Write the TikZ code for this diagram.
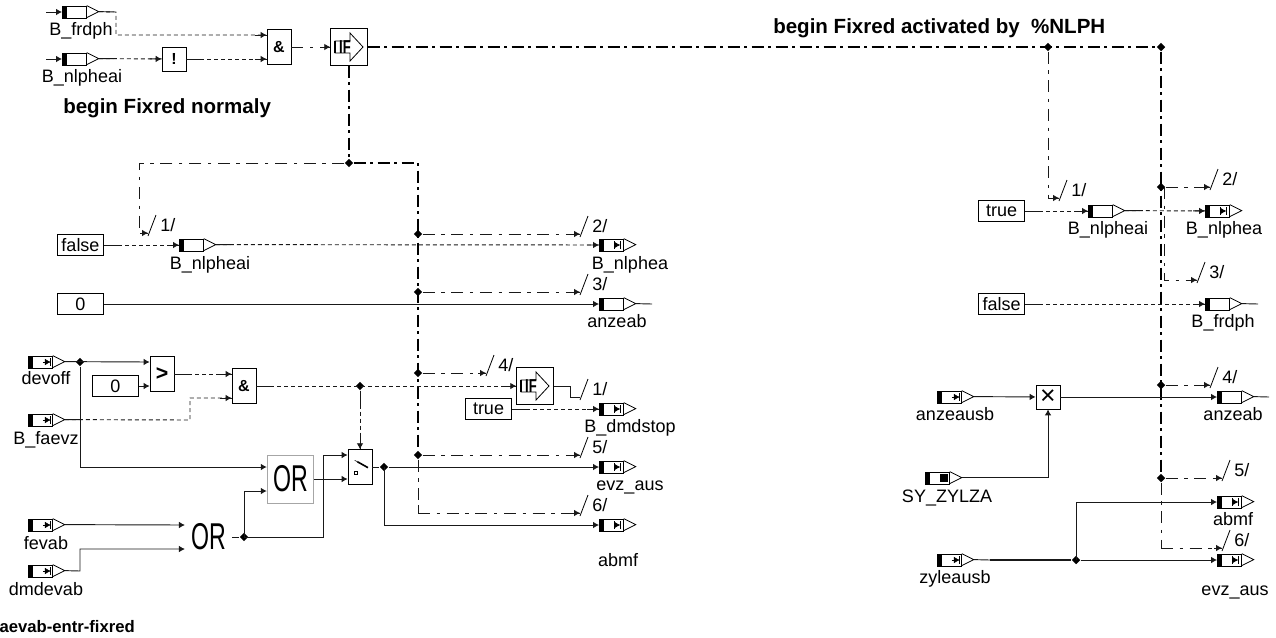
\documentclass[tikz,border=0pt]{standalone}
\usepackage{fontspec}
\setmainfont{Liberation Sans}
\usetikzlibrary{calc, shapes.geometric, positioning, arrows.meta, decorations.markings}
\definecolor{wirecol}{gray}{0.1}
\tikzset{
  >={Latex[length=4.5pt,width=5pt]},
  txtlbl/.style={inner sep=0pt,font=\fontsize{13.5}{15}\selectfont},
  boldlbl/.style={inner sep=0pt,font=\fontsize{15.4}{17}\selectfont\bfseries},
  varbox/.style={draw,fill=white,rectangle,inner sep=0pt,minimum width=18pt,minimum height=9pt,line width=0.6pt},
  valbox/.style={draw,rectangle,inner sep=0pt,minimum width=35pt,minimum height=15.75pt,line width=0.6pt,font=\fontsize{13.5}{15}\selectfont},
  gatebox/.style={draw,fill=white,rectangle,inner sep=0pt,minimum width=18pt,minimum height=26pt,line width=0.6pt,font=\fontsize{12}{14}\selectfont\bfseries},
  junct/.style={diamond,fill=black,inner sep=0pt,minimum size=6.5pt},
  sigline/.style={draw=wirecol,line width=0.7pt},
  logicline/.style={draw=wirecol,line width=0.7pt,dash pattern=on 3pt off 2.25pt,
    postaction={decorate,decoration={markings,
      mark=at position 0 with {\draw[solid,-,line width=0.7pt] (0,0) -- (11pt,0);},
      mark=at position 1 with {\draw[solid,-,line width=0.7pt] (-9pt,0) -- (0,0);}}}},
  ctrlline/.style={draw=wirecol,line width=0.7pt,dash pattern=on 9pt off 5pt on 2.5pt off 5pt,
    postaction={decorate,decoration={markings,
      mark=at position 1 with {\draw[solid,-,line width=0.7pt] (-6pt,0) -- (0,0);}}}},
  ctrlthick/.style={draw=black,line width=1.1pt,dash pattern=on 9pt off 3.5pt on 2pt off 3.5pt},
}
% name, x, y, label, label x, label baseline
\newcommand{\varblk}[6]{%
  \node[varbox,anchor=west] (#1) at (#2,#3) {};
  \fill (#1.north west) rectangle ([xshift=4pt]#1.south west);
  \draw[line width=0.6pt] (#1.north east) -- ++(12,6) coordinate (#1o) -- ++(-12,6);
  \node[txtlbl,anchor=base] (#1l) at (#5,#6) {#4};
}
\newcommand{\markin}[1]{\draw[->,line width=0.5pt] (#1.east) ++(-10,0) -- ++(8,0); \draw[line width=0.8pt] (#1.east) ++(-2,-4) -- ++(0,8);}
\newcommand{\markout}[1]{\draw[line width=0.6pt] (#1.east) ++(-9.5,-4) -- ++(0,8); \draw[->,line width=0.5pt] (#1.east) ++(-9.5,0) -- ++(6,0); \draw[line width=0.6pt] (#1.east) ++(-3.5,-4) -- ++(0,8);}
% name, x, y, label
\newcommand{\trigmark}[4]{%
  \coordinate (#1) at (#2,#3);
  \draw[line width=0.6pt] (#1) ++(0,3) -- ++(8,-21);
  \node[txtlbl,anchor=base west] (#1l) at ([xshift=9pt,yshift=1.5pt]#1) {#4};
}
\newcommand{\ifblk}[3]{%
  \node[gatebox,minimum width=27.5pt,minimum height=27.5pt] (#1) at (#2,#3) {};
  \draw[line width=0.6pt] (#1) ++(-14,-6) -- ++(15,0) -- ++(0,-8) -- ++(13,14) -- ++(-13,14) -- ++(0,-8) -- ++(-15,0) -- cycle;
  \draw[line width=0.9pt] (#1) ++(-14,-6) -- ++(0,12);
  \node[inner sep=0pt] (#1t) at ([xshift=-3pt]#1) {\scalebox{0.7}[1]{\fontsize{14}{14}\selectfont\bfseries IF}};
}
\newcommand{\orword}{\scalebox{0.62}[1]{\fontsize{28}{28}\selectfont\mdseries OR}}
\begin{document}
\begin{tikzpicture}[x=0.75pt,y=-0.75pt]
  \useasboundingbox (0,0) rectangle (1276,637);
  \node[boldlbl,anchor=base west] (hdrleft) at (63,113) {begin Fixred normaly};
  \node[boldlbl,anchor=base west] (hdrright) at (773,33) {begin Fixred activated by\ \ \%NLPH};
  \node[anchor=base east,inner sep=0pt,font=\fontsize{12.5}{14}\selectfont\bfseries] (tagname) at (135,632) {faevab-entr-fixred};
  \varblk{vfrdph}{62}{12}{B\_frdph}{81}{35}
  \varblk{vnlpi}{62}{59}{B\_nlpheai}{82}{82}
  \coordinate (infrdph) at (46,12);
  \coordinate (innlpi) at (46,59);
  \node[gatebox,minimum height=18pt] (notg) at (174,59) {!};
  \node[gatebox] (anda) at (279,47) {\&};
  \ifblk{ifa}{349}{47}
  \draw[sigline,->] (infrdph) -- (vfrdph);
  \draw[sigline,->] (innlpi) -- (vnlpi);
  \coordinate (bendfrd) at (116,12);
  \draw[logicline,->] (vfrdpho) -- (bendfrd) |- ([yshift=9pt]anda.west);
  \draw[logicline,->] (vnlpio) -- (notg);
  \draw[logicline,->] (notg) -- ([yshift=-9pt]anda.west);
  \draw[ctrlline,->] (anda) -- (ifa);
  % control rails
  \node[junct] (jla) at (349,163) {};
  \node[junct] (jl2) at (418,234) {};
  \node[junct] (jl3) at (418,292) {};
  \node[junct] (jl4) at (418,373) {};
  \node[junct] (jl5) at (418,455) {};
  \node[junct] (jra) at (1048,47) {};
  \node[junct] (jrb) at (1161,47) {};
  \node[junct] (jr2) at (1161,187) {};
  \node[junct] (jr4) at (1161,385) {};
  \node[junct] (jr5) at (1161,478) {};
  \coordinate (ctla) at (139,163);
  \coordinate (ctlb) at (418,163);
  \coordinate (ctlc) at (418,513);
  \coordinate (ctrd) at (1161,548);
  \coordinate (ctre) at (1164,187);
  \draw[ctrlthick] (ifa) -- (jrb);
  \draw[ctrlthick] (ifa) -- (jla);
  \draw[ctrlthick] (jla) -- (ctlb) -- (jl5);
  \draw[ctrlthick] (jrb) -- (jr5);
  \draw[ctrlline] (jl5) -- (ctlc);
  \draw[ctrlline] (jr5) -- (ctrd);
  \trigmark{tla}{148}{233}{1/}
  \trigmark{tlb}{580}{234}{2/}
  \trigmark{tlc}{580}{292}{3/}
  \trigmark{tld}{486}{373}{4/}
  \trigmark{tle}{580}{455}{5/}
  \trigmark{tlf}{580}{513}{6/}
  \trigmark{tlg}{580}{397}{1/}
  \trigmark{tra}{1059}{198}{1/}
  \trigmark{trb}{1210}{187}{2/}
  \trigmark{trc}{1197}{280}{3/}
  \trigmark{trd}{1210}{385}{4/}
  \trigmark{tre}{1222}{478}{5/}
  \trigmark{trf}{1222}{548}{6/}
  \draw[ctrlline,->] (jla) -- (ctla) |- (tla);
  \draw[ctrlline,->] (jl2) -- (tlb);
  \draw[ctrlline,->] (jl3) -- (tlc);
  \draw[ctrlline,->] (jl4) -- (tld);
  \draw[ctrlline,->] (jl5) -- (tle);
  \draw[ctrlline,->] (ctlc) -- (tlf);
  \draw[ctrlline,->] (jra) |- (tra);
  \draw[ctrlline,->] (jr2) -- (trb);
  \draw[ctrlline,->] (ctre) |- (trc);
  \draw[ctrlline,->] (jr4) -- (trd);
  \draw[ctrlline,->] (jr5) -- (tre);
  \draw[ctrlline,->] (ctrd) -- (trf);
  % left page, upper rows
  \node[valbox] (falsea) at (80.5,245) {false};
  \node[valbox] (zeroa) at (80.5,304) {0};
  \varblk{vnlpl}{179}{245}{B\_nlpheai}{210}{269}
  \varblk{vnlpa}{599}{245}{B\_nlphea}{630}{269}
  \markout{vnlpa}
  \varblk{vanza}{599}{304}{anzeab}{617}{327}
  \coordinate (stubanza) at (652,304);
  \draw[logicline,->] (falsea) -- (vnlpl);
  \draw[logicline,->] (vnlplo) -- (vnlpa);
  \draw[sigline,->] (zeroa) -- (vanza);
  \draw[sigline] (vanzao) -- (stubanza);
  % left page, lower rows
  \varblk{vdevoff}{28}{362}{devoff}{46}{384}
  \markin{vdevoff}
  \varblk{vfaevz}{28}{420}{B\_faevz}{46}{444}
  \markin{vfaevz}
  \varblk{vfevab}{28}{525}{fevab}{46}{549}
  \markin{vfevab}
  \varblk{vdmdev}{28}{571}{dmdevab}{46}{595}
  \markin{vdmdev}
  \node[valbox] (zerob) at (115.5,386) {0};
  \node[gatebox] (gtr) at (162,374) {\fontsize{16}{16}\selectfont >};
  \node[gatebox] (andb) at (244,386) {\&};
  \ifblk{ifb}{535}{386}
  \node[valbox] (trueb) at (488.5,409) {true};
  \node[gatebox,minimum width=35pt,minimum height=36pt,draw=black!35] (ora) at (290.5,479) {\orword};
  \node[inner sep=0pt,minimum width=35pt,minimum height=36pt] (orb) at (208.5,537) {\orword};
  \node[gatebox] (swt) at (360,467) {};
  \draw[line width=0.4pt] ([xshift=-4pt,yshift=5pt]swt.center) -- ([xshift=-2pt,yshift=4pt]swt.center);
  \draw[line width=1.2pt] ([xshift=-2pt,yshift=4pt]swt.center) -- ([xshift=6pt,yshift=-0.5pt]swt.center);
  \draw[line width=0.5pt] ([xshift=-4pt,yshift=-3.5pt]swt.center) rectangle ([xshift=-2pt,yshift=-5.5pt]swt.center);
  \varblk{vdmdst}{599}{409}{B\_dmdstop}{630}{432}
  \markout{vdmdst}
  \varblk{vevza}{599}{467}{evz\_aus}{630}{490}
  \markout{vevza}
  \varblk{vabma}{599}{525}{abmf}{618}{566}
  \markout{vabma}
  \node[junct] (jdev) at (80,362) {};
  \node[junct] (jsel) at (360,386) {};
  \node[junct] (jor) at (244,537) {};
  \node[junct] (jout) at (384,467) {};
  \coordinate (benddev) at (80,467);
  \coordinate (bendfae) at (190,420);
  \coordinate (benddmd) at (80,571);
  \coordinate (bendsw) at (323,537);
  \coordinate (bendabm) at (384,525);
  \coordinate (bendifb) at (570,386);
  \draw[sigline,->] (vdevoffo) -- ([yshift=9pt]gtr.west);
  \draw[sigline,->] (zerob) -- ([yshift=-9pt]gtr.west);
  \draw[logicline,->] (gtr) -- ([yshift=9pt]andb.west);
  \draw[logicline,->] (vfaevzo) -- (bendfae) |- ([yshift=-9pt]andb.west);
  \draw[logicline,->] (andb) -- (ifb);
  \draw[logicline,->] (jsel) -- (swt);
  \draw[sigline,->] (jdev) -- (benddev) -- ([yshift=9pt]ora.west);
  \draw[sigline,->] (vfevabo) -- ([yshift=9pt]orb.west);
  \draw[sigline,->] (vdmdevo) -- (benddmd) |- ([yshift=-9pt]orb.west);
  \draw[sigline] (orb) -- (jor);
  \draw[sigline,->] (jor.center) |- ([yshift=-9pt]ora.west);
  \draw[sigline,->] (jor.center) -- (bendsw) |- ([yshift=9pt]swt.west);
  \draw[sigline,->] (ora) -- ([yshift=-9pt]swt.west);
  \draw[sigline] (swt) -- (jout);
  \draw[sigline,->] (jout) -- (vevza);
  \draw[sigline,->] (jout.center) -- (bendabm) -- (vabma);
  \draw[sigline] (ifb) -- (bendifb) |- (tlg);
  \draw[logicline,->] (trueb) -- (vdmdst);
  % right page
  \node[valbox] (truec) at (1001.5,211) {true};
  \node[valbox] (falsec) at (1001.5,304) {false};
  \varblk{vnlpr}{1088}{211}{B\_nlpheai}{1108}{234}
  \varblk{vnlpb}{1205}{211}{B\_nlphea}{1224}{234}
  \markout{vnlpb}
  \varblk{vfrdb}{1205}{304}{B\_frdph}{1223}{327}
  \coordinate (stubfrd) at (1258,304);
  \varblk{vanzu}{937}{397}{anzeausb}{955}{420}
  \markin{vanzu}
  \varblk{vanzb}{1217}{397}{anzeab}{1233}{420}
  \coordinate (stubanzb) at (1269,397);
  \varblk{vzylza}{925}{478}{SY\_ZYLZA}{947}{502}
  \fill (vzylza.east) ++(-10,-4) rectangle ++(8,8);
  \varblk{vabmb}{1217}{502}{abmf}{1233}{525}
  \markout{vabmb}
  \varblk{vzyle}{937}{560}{zyleausb}{955}{583}
  \markin{vzyle}
  \varblk{vevzb}{1217}{560}{evz\_aus}{1235}{595}
  \markout{vevzb}
  \node[gatebox,minimum height=18pt,font=\fontsize{20}{20}\selectfont] (mult) at (1048,397) {×};
  \node[junct] (jzyl) at (1076,560) {};
  \coordinate (thickzyl) at (990,560);
  \draw[logicline,->] (truec) -- (vnlpr);
  \draw[logicline,->] (vnlpro) -- (vnlpb);
  \draw[logicline,->] (falsec) -- (vfrdb);
  \draw[sigline] (vfrdbo) -- (stubfrd);
  \draw[sigline,->] (vanzuo) -- (mult);
  \draw[sigline,->] (mult) -- (vanzb);
  \draw[sigline] (vanzbo) -- (stubanzb);
  \draw[sigline,->] (vzylzao) -| (mult);
  \draw[sigline] (vzyleo) -- (thickzyl);
  \draw[sigline,line width=1.1pt] (thickzyl) -- (jzyl);
  \draw[sigline,->] (jzyl) -- (vevzb);
  \draw[sigline,->] (jzyl.center) |- (vabmb);
\end{tikzpicture}
\end{document}
